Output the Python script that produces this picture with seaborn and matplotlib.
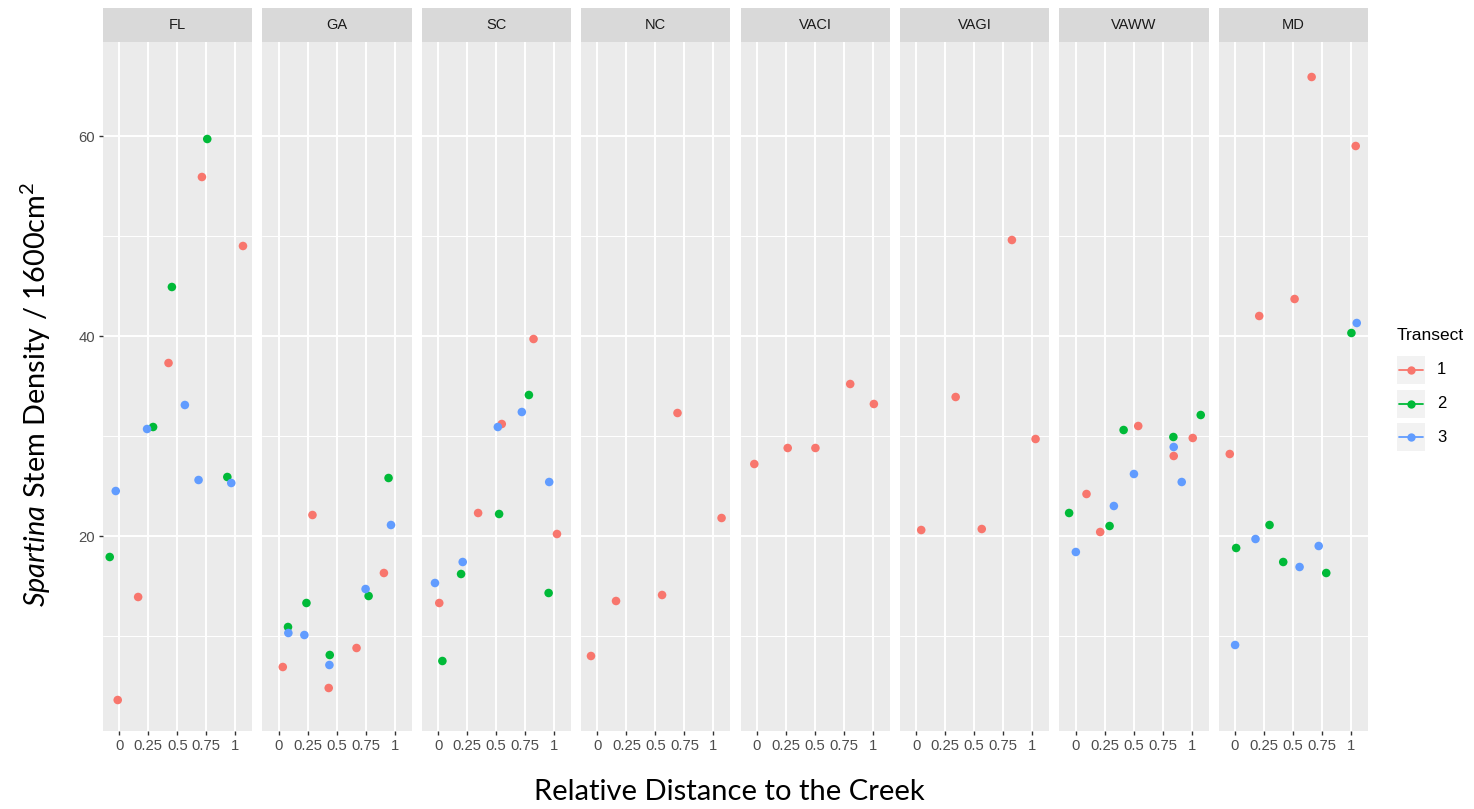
import numpy as np
import pandas as pd
import matplotlib
matplotlib.use("Agg")
import matplotlib.pyplot as plt
import seaborn as sns
from matplotlib.patches import Rectangle
from matplotlib.lines import Line2D

# ---------------- data ----------------
sites = ["FL", "GA", "SC", "NC", "VACI", "VAGI", "VAWW", "MD"]
transects = ["1", "2", "3"]
palette = ["#F8766D", "#00BA38", "#619CFF"]
x_ticks = [0, 0.25, 0.5, 0.75, 1]
x_tick_labels = ["0", "0.25", "0.5", "0.75", "1"]
y_ticks = [20, 40, 60]

FL_tr   = ["1"] * 5 + ["2"] * 5 + ["3"] * 5
FL_dist = [-0.014, 0.162, 0.424, 0.712, 1.066,
           -0.083, 0.291, 0.453, 0.758, 0.931,
           -0.031, 0.239, 0.565, 0.683, 0.965]
FL_dens = [3.6, 13.9, 37.3, 55.9, 49.0,
           17.9, 30.9, 44.9, 59.7, 25.9,
           24.5, 30.7, 33.1, 25.6, 25.3]

GA_tr   = ["1"] * 5 + ["2"] * 5 + ["3"] * 5
GA_dist = [0.035, 0.291, 0.431, 0.671, 0.907,
           0.080, 0.239, 0.440, 0.775, 0.947,
           0.083, 0.221, 0.437, 0.749, 0.968]
GA_dens = [6.9, 22.1, 4.8, 8.8, 16.3,
           10.9, 13.3, 8.1, 14.0, 25.8,
           10.3, 10.1, 7.1, 14.7, 21.1]

SC_tr   = ["1"] * 5 + ["2"] * 5 + ["3"] * 5
SC_dist = [0.010, 0.345, 0.549, 0.823, 1.025,
           0.037, 0.198, 0.526, 0.783, 0.953,
           -0.027, 0.212, 0.515, 0.722, 0.958]
SC_dens = [13.3, 22.3, 31.2, 39.7, 20.2,
           7.5, 16.2, 22.2, 34.1, 14.3,
           15.3, 17.4, 30.9, 32.4, 25.4]

NC_tr   = ["1"] * 5
NC_dist = [-0.056, 0.160, 0.557, 0.690, 1.070]
NC_dens = [8.0, 13.5, 14.1, 32.3, 21.8]

VACI_tr   = ["1"] * 5
VACI_dist = [-0.022, 0.266, 0.505, 0.805, 1.009]
VACI_dens = [27.2, 28.8, 28.8, 35.2, 33.2]

VAGI_tr   = ["1"] * 5
VAGI_dist = [0.043, 0.340, 0.565, 0.825, 1.029]
VAGI_dens = [20.6, 33.9, 20.7, 49.6, 29.7]

VAWW_tr   = ["1"] * 5 + ["2"] * 5 + ["3"] * 5
VAWW_dist = [0.094, 0.212, 0.540, 0.846, 1.010,
             -0.056, 0.293, 0.414, 0.843, 1.079,
             0.002, 0.330, 0.503, 0.846, 0.915]
VAWW_dens = [24.2, 20.4, 31.0, 28.0, 29.8,
             22.3, 21.0, 30.6, 29.9, 32.1,
             18.4, 23.0, 26.2, 28.9, 25.4]

MD_tr   = ["1"] * 5 + ["2"] * 5 + ["3"] * 5
MD_dist = [-0.045, 0.209, 0.514, 0.661, 1.041,
           0.010, 0.298, 0.416, 0.787, 1.004,
           0.001, 0.177, 0.557, 0.722, 1.050]
MD_dens = [28.2, 42.0, 43.7, 65.9, 59.0,
           18.8, 21.1, 17.4, 16.3, 40.3,
           9.1, 19.7, 16.9, 19.0, 41.3]

site_data = {
    "FL": (FL_tr, FL_dist, FL_dens),
    "GA": (GA_tr, GA_dist, GA_dens),
    "SC": (SC_tr, SC_dist, SC_dens),
    "NC": (NC_tr, NC_dist, NC_dens),
    "VACI": (VACI_tr, VACI_dist, VACI_dens),
    "VAGI": (VAGI_tr, VAGI_dist, VAGI_dens),
    "VAWW": (VAWW_tr, VAWW_dist, VAWW_dens),
    "MD": (MD_tr, MD_dist, MD_dens),
}
frames = []
for s in sites:
    tr, d, y = site_data[s]
    frames.append(pd.DataFrame({"Site": s, "Transect": tr, "Distance": d, "Density": y}))
df = pd.concat(frames, ignore_index=True)

# ---------------- style ----------------
sns.set_theme(style="white")
plt.rcParams["font.family"] = ["Liberation Sans", "DejaVu Sans"]
plt.rcParams["mathtext.fontset"] = "custom"
plt.rcParams["mathtext.rm"] = "Lato"
plt.rcParams["mathtext.it"] = "Lato:italic"

W, H = 1474, 809
fig, axes = plt.subplots(1, len(sites), figsize=(W / 100, H / 100), dpi=100, sharey=True)
fig.patch.set_facecolor("white")
fig.subplots_adjust(left=103 / W, right=1368 / W, top=1 - 42 / H, bottom=1 - 731 / H, wspace=0.067)

pal = dict(zip(transects, palette))
strip_frac = 34 / 689

for ax, s in zip(axes, sites):
    sub = df[df["Site"] == s]
    ax.set_facecolor("#EBEBEB")
    sns.scatterplot(data=sub, x="Distance", y="Density", hue="Transect", palette=pal,
                    hue_order=[t for t in transects if t in set(sub["Transect"])],
                    s=38, edgecolor="none", linewidth=0, ax=ax, legend=False, zorder=3)
    ax.set_xlim(-0.141, 1.147)
    ax.set_ylim(0.5, 69.4)
    ax.set_xticks(x_ticks)
    ax.set_xticklabels(x_tick_labels)
    ax.set_yticks(y_ticks)
    ax.set_yticks([10, 30, 50], minor=True)
    ax.grid(which="major", color="white", linewidth=1.4, zorder=0)
    ax.grid(which="minor", axis="y", color="white", linewidth=0.7, zorder=0)
    ax.set_axisbelow(True)
    for sp in ax.spines.values():
        sp.set_visible(False)
    ax.tick_params(axis="both", which="major", length=3, width=1, color="#333333",
                   labelsize=10.7, labelcolor="#4D4D4D", pad=2.5)
    ax.tick_params(axis="y", which="minor", length=0)
    ax.tick_params(axis="x", bottom=True)
    if ax is not axes[0]:
        ax.tick_params(axis="y", left=False)
    else:
        ax.tick_params(axis="y", left=True)
    ax.set_xlabel("")
    ax.set_ylabel("")
    # facet strip
    ax.add_patch(Rectangle((0, 1), 1, strip_frac, transform=ax.transAxes,
                           facecolor="#D9D9D9", edgecolor="none", clip_on=False))
    ax.text(0.5, 1 + strip_frac / 2, s, transform=ax.transAxes, ha="center", va="center",
            fontsize=10.5, color="#1A1A1A")

# axis titles
fig.text(729 / W, 1 - 792 / H, "Relative Distance to the Creek", ha="center", va="center",
         fontsize=21, family=["Lato", "DejaVu Sans"], color="black")
fig.text(36 / W, 1 - 394 / H, r"$\mathit{Spartina}$$\mathrm{\ Stem\ Density\ /\ 1600cm^{2}}$",
         ha="center", va="center", rotation=90, fontsize=20.8, color="black")

# legend (ggplot-like)
fig.text(1397 / W, 1 - 335 / H, "Transect", ha="left", va="center", fontsize=12.5, color="black")
key_y = [370, 404, 437]
for t, c, ky in zip(transects, palette, key_y):
    fig.patches.append(Rectangle((1397 / W, 1 - (ky + 14) / H), 28 / W, 28 / H,
                                 transform=fig.transFigure, facecolor="#F2F2F2",
                                 edgecolor="none"))
    fig.lines.append(Line2D([1399 / W, 1423 / W], [1 - ky / H, 1 - ky / H],
                            transform=fig.transFigure, color=c, linewidth=1.3))
    fig.lines.append(Line2D([1411 / W], [1 - ky / H], transform=fig.transFigure,
                            marker="o", markersize=6, color=c, markeredgewidth=0))
    fig.text(1437 / W, 1 - ky / H, t, ha="left", va="center", fontsize=12, color="black")

fig.savefig("out.png", dpi=100, facecolor="white")
